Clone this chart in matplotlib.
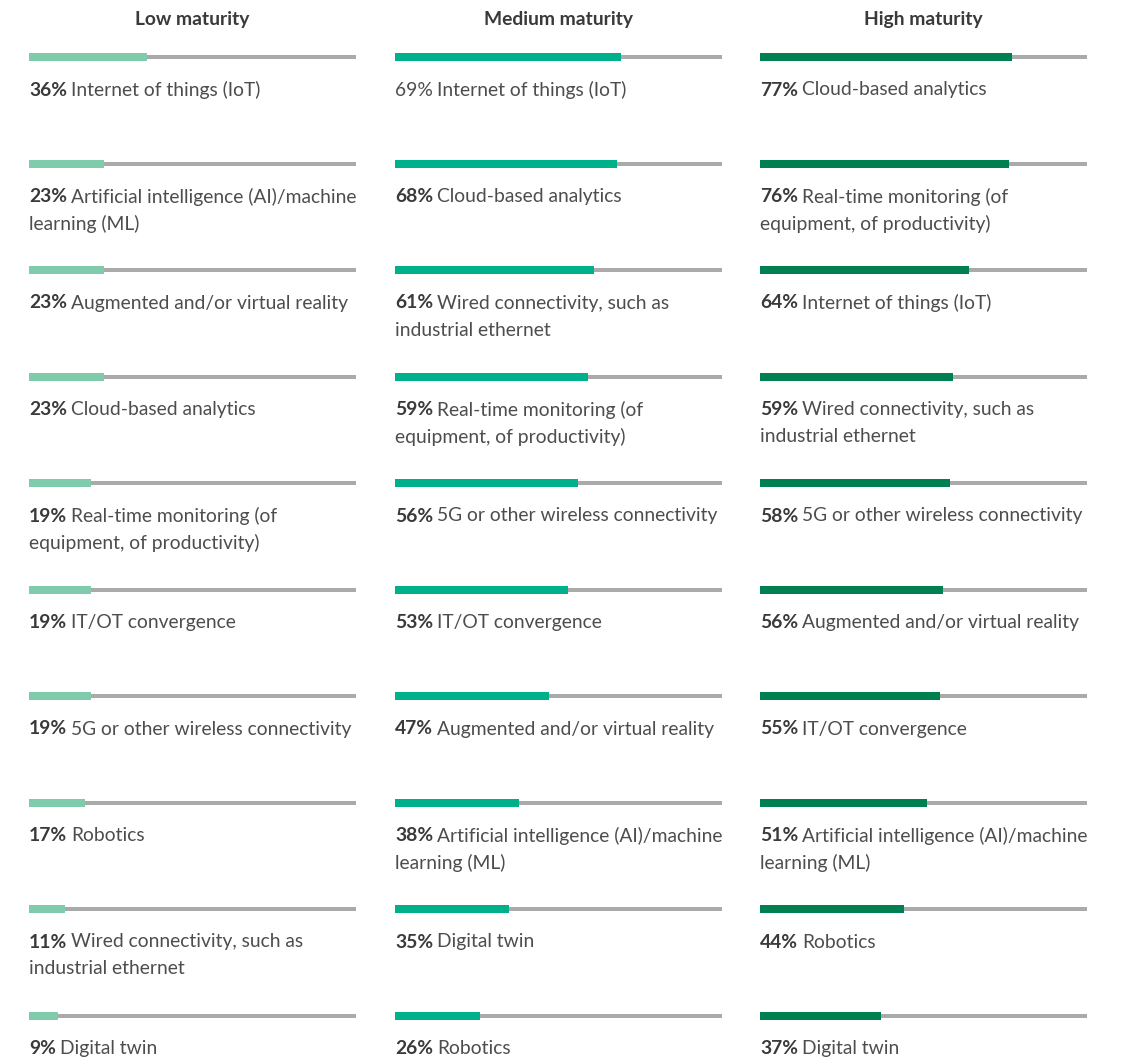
import matplotlib
matplotlib.use("Agg")
import matplotlib.pyplot as plt

headers = ["Low maturity", "Medium maturity", "High maturity"]

low_pct = [36, 23, 23, 23, 19, 19, 19, 17, 11, 9]
low_labels = ["Internet of things (IoT)",
              "Artificial intelligence (AI)/machine\nlearning (ML)",
              "Augmented and/or virtual reality",
              "Cloud-based analytics",
              "Real-time monitoring (of\nequipment, of productivity)",
              "IT/OT convergence",
              "5G or other wireless connectivity",
              "Robotics",
              "Wired connectivity, such as\nindustrial ethernet",
              "Digital twin"]

med_pct = [69, 68, 61, 59, 56, 53, 47, 38, 35, 26]
med_labels = ["Internet of things (IoT)",
              "Cloud-based analytics",
              "Wired connectivity, such as\nindustrial ethernet",
              "Real-time monitoring (of\nequipment, of productivity)",
              "5G or other wireless connectivity",
              "IT/OT convergence",
              "Augmented and/or virtual reality",
              "Artificial intelligence (AI)/machine\nlearning (ML)",
              "Digital twin",
              "Robotics"]

high_pct = [77, 76, 64, 59, 58, 56, 55, 51, 44, 37]
high_labels = ["Cloud-based analytics",
               "Real-time monitoring (of\nequipment, of productivity)",
               "Internet of things (IoT)",
               "Wired connectivity, such as\nindustrial ethernet",
               "5G or other wireless connectivity",
               "Augmented and/or virtual reality",
               "IT/OT convergence",
               "Artificial intelligence (AI)/machine\nlearning (ML)",
               "Robotics",
               "Digital twin"]

# the first medium value is printed without bold in the source
med_bold = [False] + [True] * 9

columns = [
    (low_pct, low_labels, [True] * 10, "#80cbac", 29),
    (med_pct, med_labels, med_bold, "#00b08a", 395),
    (high_pct, high_labels, [True] * 10, "#007f50", 760),
]

W, H = 1127, 1059
col_w = 327
row0, row_step = 57, 106.5
text_dark = "#3a3a3a"
text_reg = "#4d4d4d"
font = "Lato"
fs = 13.9

fig = plt.figure(figsize=(W / 100, H / 100), dpi=100)
fig.patch.set_facecolor("white")
renderer = fig.canvas.get_renderer()

for (pcts, labels, bolds, color, x0), header in zip(columns, headers):
    ax = fig.add_axes([x0 / W, 0, col_w / W, 1])
    ax.set_xlim(0, 100)
    ax.set_ylim(H, 0)
    ax.axis("off")
    ys = [row0 + i * row_step for i in range(len(pcts))]
    ax.barh(ys, [100] * len(pcts), height=4, color="#aaaaaa", zorder=1)
    ax.barh(ys, pcts, height=8, color=color, zorder=2)
    ax.text(50, 20, header, ha="center", va="center", fontsize=fs,
            fontweight="bold", color=text_dark, family=font)
    px_per_unit = col_w / 100
    for y, p, lab, b in zip(ys, pcts, labels, bolds):
        ty = y + 33
        t = ax.text(0, ty, f"{p}%", ha="left", va="center", fontsize=fs,
                    fontweight="bold" if b else "normal",
                    color=text_dark if b else text_reg, family=font)
        bb = t.get_window_extent(renderer=renderer)
        offset = (bb.width + 4) / px_per_unit
        lines = lab.split("\n")
        ax.text(offset, ty, lines[0], ha="left", va="center", fontsize=fs,
                color=text_reg, family=font, clip_on=False)
        for k, extra in enumerate(lines[1:], start=1):
            ax.text(0, ty + 27 * k, extra, ha="left", va="center",
                    fontsize=fs, color=text_reg, family=font)

fig.savefig("out.png", dpi=100, facecolor="white")
